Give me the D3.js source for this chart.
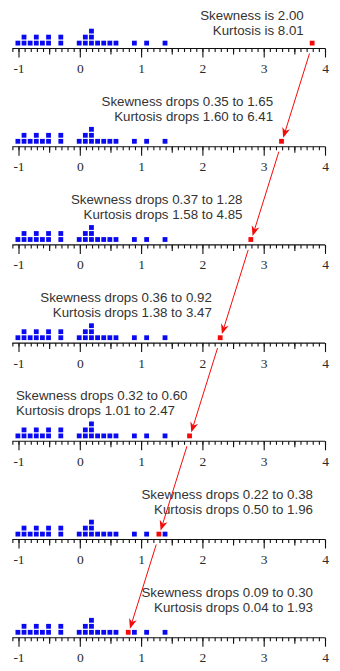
<!DOCTYPE html>
<html>
<head>
<meta charset="utf-8">
<script src="https://cdn.jsdelivr.net/npm/d3@7"></script>
<style>
  html, body { margin: 0; padding: 0; background: #fff; }
  svg { display: block; }
</style>
</head>
<body>
<svg id="chart" width="340" height="671"></svg>
<script>
// Shared sample: values (step 0.1) and how many points sit at each value
const sampleValues = [-1.0, -0.9, -0.8, -0.7, -0.6, -0.5, -0.3, 0.0, 0.1, 0.2, 0.3, 0.4, 0.5, 0.6, 0.9, 1.1, 1.4];
const sampleCounts = [1, 2, 1, 2, 1, 2, 2, 1, 2, 3, 1, 1, 1, 1, 1, 1, 1];

// The single outlier, moved closer to the bulk in each step
const outlierValues = [3.8, 3.3, 2.8, 2.3, 1.8, 1.3, 0.8];

// Statistics reported for each step
const skewness = [2.00, 1.65, 1.28, 0.92, 0.60, 0.38, 0.30];
const kurtosis = [8.01, 6.41, 4.85, 3.47, 2.47, 1.96, 1.93];
const skewDrops = [null, 0.35, 0.37, 0.36, 0.32, 0.22, 0.09];
const kurtDrops = [null, 1.60, 1.58, 1.38, 1.01, 0.50, 0.04];

// Axis tick values and labels
const majorTicks = [-1, 0, 1, 2, 3, 4];
const majorLabels = ["-1", "0", "1", "2", "3", "4"];
const halfTicks = [-0.5, 0.5, 1.5, 2.5, 3.5];
const minorTicks = d3.range(-11, 41).map(d => d / 10);

const svg = d3.select("#chart");
const x = d3.scaleLinear().domain([-1, 4]).range([18.5, 325]);

const firstAxisY = 48.5;
const panelGap = 98.2;
const dot = 4.8;
const stackStep = 6;
const baseGap = 3;
const blue = "#0a0af0";
const red = "#f50a0a";
const fmt = d3.format(".2f");

const axisY = i => firstAxisY + i * panelGap;
const dotCenterY = i => axisY(i) - baseGap - dot / 2;

outlierValues.forEach((o, i) => {
  const g = svg.append("g").attr("transform", `translate(0,${axisY(i)})`);

  // axis line and ticks
  g.append("line")
    .attr("x1", x(-1.1)).attr("x2", x(4))
    .attr("y1", 0).attr("y2", 0)
    .attr("stroke", "#111").attr("stroke-width", 1.1);

  const minor = d3.axisBottom(x).tickValues(minorTicks).tickSize(3.5).tickFormat("");
  const half = d3.axisBottom(x).tickValues(halfTicks).tickSize(6).tickFormat("");
  const major = d3.axisBottom(x).tickValues(majorTicks).tickSize(9).tickPadding(6)
    .tickFormat((d, k) => majorLabels[k]);

  [minor, half, major].forEach(ax => {
    const a = g.append("g").call(ax);
    a.select(".domain").remove();
    a.selectAll(".tick line").attr("stroke", "#111").attr("stroke-width", 1.1);
    a.selectAll(".tick text")
      .attr("font-family", "'Liberation Serif', 'DejaVu Serif', serif")
      .attr("font-size", 13.5)
      .attr("fill", "#2a2a2a");
  });

  // stacked sample points
  const pts = [];
  sampleValues.forEach((v, j) => {
    for (let k = 0; k < sampleCounts[j]; k++) pts.push({ v, k });
  });
  g.selectAll("rect.pt").data(pts).join("rect")
    .attr("class", "pt")
    .attr("x", d => x(d.v) - dot / 2 - 0.6)
    .attr("y", d => -baseGap - dot - d.k * stackStep)
    .attr("width", dot).attr("height", dot)
    .attr("fill", blue);

  // outlier
  g.append("rect")
    .attr("x", x(o) - dot / 2 - 0.6)
    .attr("y", -baseGap - dot)
    .attr("width", dot).attr("height", dot)
    .attr("fill", red);

  // statistics text
  const line1 = i === 0 ? `Skewness is ${fmt(skewness[i])}`
    : `Skewness drops ${fmt(skewDrops[i])} to ${fmt(skewness[i])}`;
  const line2 = i === 0 ? `Kurtosis is ${fmt(kurtosis[i])}`
    : `Kurtosis drops ${fmt(kurtDrops[i])} to ${fmt(kurtosis[i])}`;

  const off1 = i === 0 ? -29 : -41;
  const off2 = i === 0 ? -14 : -26;

  const t = g.append("g")
    .attr("font-family", "'Liberation Sans', Arial, sans-serif")
    .attr("font-size", 13.3)
    .attr("fill", "#333");
  const t1 = t.append("text").attr("y", off1).text(line1);
  const t2 = t.append("text").attr("y", off2).text(line2);

  // place text to the left of the outlier, or at the right edge if it will not fit
  const w = Math.max(t1.node().getComputedTextLength(), t2.node().getComputedTextLength());
  let end = Math.min(x(o) - 9, 312);
  if (end - w < 0) {
    t1.attr("x", 313).attr("text-anchor", "end");
    t2.attr("x", 313).attr("text-anchor", "end");
  } else if (end - w < 16) {
    t1.attr("x", 16).attr("text-anchor", "start");
    t2.attr("x", 16).attr("text-anchor", "start");
  } else {
    t1.attr("x", end).attr("text-anchor", "end");
    t2.attr("x", end).attr("text-anchor", "end");
  }
});

// arrows tracking the outlier from one step to the next
for (let i = 0; i < outlierValues.length - 1; i++) {
  const x0 = x(outlierValues[i]), y0 = dotCenterY(i);
  const x1 = x(outlierValues[i + 1]), y1 = dotCenterY(i + 1);
  const at = yy => x0 + (x1 - x0) * (yy - y0) / (y1 - y0);
  const ys = axisY(i) + 5;
  const ye = axisY(i + 1) - 9;
  const xs = at(ys), xe = at(ye);

  const ang = Math.atan2(ye - ys, xe - xs);
  const len = 10, hw = 4, notch = 7;
  const ux = Math.cos(ang), uy = Math.sin(ang);
  const px = -uy, py = ux;
  const bx = xe - ux * len, by = ye - uy * len;

  svg.append("line")
    .attr("x1", xs).attr("y1", ys)
    .attr("x2", xe - ux * notch).attr("y2", ye - uy * notch)
    .attr("stroke", red).attr("stroke-width", 1);

  svg.append("path")
    .attr("d", `M${xe},${ye} L${bx + px * hw},${by + py * hw} L${xe - ux * notch},${ye - uy * notch} L${bx - px * hw},${by - py * hw} Z`)
    .attr("fill", red);
}
</script>
</body>
</html>
